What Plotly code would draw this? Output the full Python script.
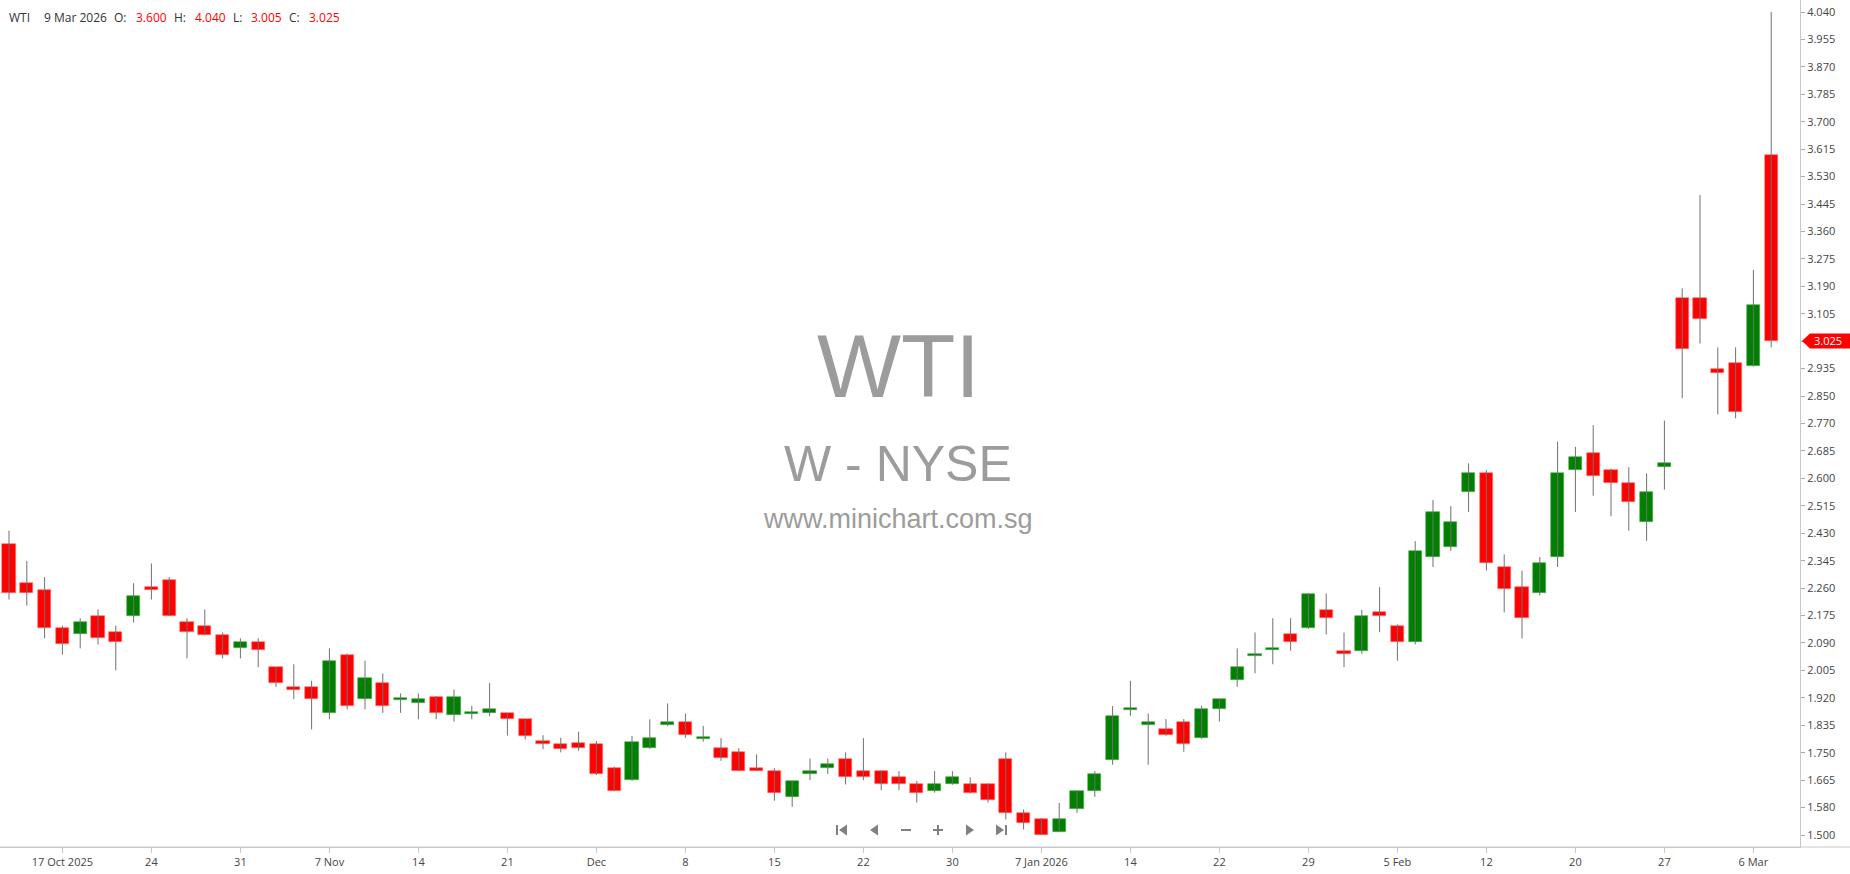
import pandas as pd
import plotly.graph_objects as go

# ---------------- data ----------------
holidays = ["2025-11-27", "2025-12-25", "2026-01-01", "2026-01-19", "2026-02-16"]
dates = [d for d in pd.bdate_range("2025-10-14", "2026-03-09") if d.strftime("%Y-%m-%d") not in holidays]

opens = [2.397, 2.277, 2.257, 2.138, 2.119, 2.177, 2.125, 2.177, 2.265, 2.288,
         2.156, 2.146, 2.118, 2.076, 2.095, 2.017, 1.956, 1.956, 1.875, 2.057,
         1.919, 1.968, 1.916, 1.907, 1.926, 1.869, 1.872, 1.877, 1.875, 1.857,
         1.790, 1.780, 1.785, 1.780, 1.706, 1.669, 1.768, 1.838, 1.848, 1.796,
         1.767, 1.756, 1.706, 1.698, 1.618, 1.688, 1.708, 1.736, 1.698, 1.698,
         1.678, 1.656, 1.637, 1.656, 1.656, 1.656, 1.736, 1.567, 1.549, 1.509,
         1.580, 1.637, 1.730, 1.885, 1.838, 1.826, 1.848, 1.799, 1.888, 1.977,
         2.052, 2.071, 2.119, 2.138, 2.195, 2.069, 2.069, 2.187, 2.146, 2.097,
         2.358, 2.389, 2.559, 2.616, 2.327, 2.265, 2.246, 2.358, 2.628, 2.678,
         2.628, 2.585, 2.466, 2.637, 3.156, 3.156, 2.937, 2.956, 2.948, 3.600]
highs = [2.439, 2.346, 2.296, 2.146, 2.169, 2.196, 2.146, 2.277, 2.338, 2.296,
         2.169, 2.196, 2.125, 2.107, 2.107, 2.018, 2.027, 1.976, 2.076, 2.060,
         2.038, 1.999, 1.937, 1.937, 1.929, 1.949, 1.899, 1.969, 1.877, 1.857,
         1.808, 1.800, 1.819, 1.790, 1.711, 1.806, 1.857, 1.906, 1.875, 1.837,
         1.799, 1.768, 1.749, 1.706, 1.668, 1.736, 1.736, 1.755, 1.799, 1.700,
         1.697, 1.667, 1.697, 1.697, 1.678, 1.659, 1.755, 1.579, 1.553, 1.599,
         1.637, 1.697, 1.898, 1.976, 1.875, 1.858, 1.858, 1.899, 1.921, 2.076,
         2.125, 2.169, 2.169, 2.247, 2.245, 2.125, 2.195, 2.265, 2.150, 2.407,
         2.534, 2.515, 2.647, 2.626, 2.366, 2.316, 2.358, 2.714, 2.698, 2.765,
         2.631, 2.635, 2.616, 2.779, 3.187, 3.475, 3.005, 3.005, 3.244, 4.040]
lows = [2.227, 2.208, 2.107, 2.057, 2.076, 2.088, 2.008, 2.156, 2.227, 2.175,
        2.045, 2.116, 2.045, 2.045, 2.018, 1.957, 1.919, 1.826, 1.857, 1.888,
        1.888, 1.877, 1.877, 1.857, 1.857, 1.850, 1.857, 1.867, 1.807, 1.795,
        1.765, 1.755, 1.760, 1.685, 1.635, 1.667, 1.766, 1.836, 1.800, 1.788,
        1.729, 1.697, 1.697, 1.606, 1.587, 1.669, 1.688, 1.656, 1.669, 1.638,
        1.638, 1.600, 1.631, 1.655, 1.628, 1.600, 1.548, 1.517, 1.500, 1.509,
        1.568, 1.618, 1.717, 1.868, 1.717, 1.806, 1.757, 1.797, 1.850, 1.957,
        1.999, 2.027, 2.069, 2.136, 2.119, 2.018, 2.059, 2.126, 2.038, 2.088,
        2.327, 2.377, 2.497, 2.316, 2.187, 2.107, 2.239, 2.327, 2.497, 2.547,
        2.484, 2.439, 2.408, 2.566, 2.848, 3.017, 2.798, 2.786, 2.946, 3.005]
closes = [2.246, 2.246, 2.138, 2.088, 2.156, 2.107, 2.097, 2.239, 2.257, 2.177,
          2.126, 2.118, 2.057, 2.095, 2.070, 1.969, 1.949, 1.919, 2.038, 1.899,
          1.986, 1.899, 1.919, 1.919, 1.877, 1.926, 1.875, 1.888, 1.857, 1.807,
          1.780, 1.765, 1.770, 1.688, 1.637, 1.786, 1.798, 1.848, 1.808, 1.799,
          1.738, 1.699, 1.699, 1.631, 1.668, 1.697, 1.718, 1.680, 1.680, 1.656,
          1.656, 1.630, 1.656, 1.678, 1.630, 1.607, 1.569, 1.538, 1.500, 1.549,
          1.636, 1.687, 1.868, 1.888, 1.848, 1.808, 1.780, 1.888, 1.919, 2.017,
          2.055, 2.074, 2.097, 2.245, 2.170, 2.059, 2.177, 2.177, 2.097, 2.376,
          2.497, 2.466, 2.616, 2.338, 2.258, 2.169, 2.338, 2.616, 2.666, 2.609,
          2.585, 2.528, 2.559, 2.647, 2.999, 3.094, 2.925, 2.804, 3.136, 3.025]

x_tick_dates = ["2025-10-17", "2025-10-24", "2025-10-31", "2025-11-07", "2025-11-14",
                "2025-11-21", "2025-12-01", "2025-12-08", "2025-12-15", "2025-12-22",
                "2025-12-30", "2026-01-07", "2026-01-14", "2026-01-22", "2026-01-29",
                "2026-02-05", "2026-02-12", "2026-02-20", "2026-02-27", "2026-03-06"]
x_tick_labels = ["17 Oct 2025", "24", "31", "7 Nov", "14", "21", "Dec", "8", "15", "22",
                 "30", "7 Jan 2026", "14", "22", "29", "5 Feb", "12", "20", "27", "6 Mar"]

y_tick_labels = ["1.500", "1.580", "1.665", "1.750", "1.835", "1.920", "2.005", "2.090",
                 "2.175", "2.260", "2.345", "2.430", "2.515", "2.600", "2.685", "2.770",
                 "2.850", "2.935", "", "3.105", "3.190", "3.275", "3.360", "3.445",
                 "3.530", "3.615", "3.700", "3.785", "3.870", "3.955", "4.040"]

symbol = "WTI"
last_date_label = "9 Mar 2026"
last_price = closes[-1]

# ---------------- layout constants ----------------
W, H = 1850, 874
PLOT_W, PLOT_H = 1800, 847
UP, DOWN = "#008000", "#ff0000"
FONT = "Open Sans, Noto Sans, sans-serif"

n = len(closes)
idx = list(range(n))
date_str = [d.strftime("%Y-%m-%d") for d in dates]

ymin, ymax = min(lows), max(highs)
pad = 12 / ((PLOT_H - 24) / (ymax - ymin))
yrange = [ymin - pad, ymax + pad]
tick_step = (ymax - ymin) / (len(y_tick_labels) - 1)
y_tick_vals = [ymin + k * tick_step for k in range(len(y_tick_labels))]

step_px = 17.8
x0 = -9 / step_px
xrange = [x0, x0 + PLOT_W / step_px]

fig = go.Figure()

# wicks
wx, wy = [], []
for i in idx:
    wx += [i, i, None]
    wy += [lows[i], highs[i], None]
fig.add_trace(go.Scatter(x=wx, y=wy, mode="lines", line=dict(color="#707070", width=1),
                         hoverinfo="skip", showlegend=False))

# bodies
base, height, colors, lcolors = [], [], [], []
for o, c in zip(opens, closes):
    lo, hi = min(o, c), max(o, c)
    h = max(hi - lo, 0.007)
    base.append(lo)
    height.append(h)
    up = c >= o
    colors.append(UP if up else DOWN)
    lcolors.append("#55a855" if up else "#ff7070")
fig.add_trace(go.Bar(x=idx, y=height, base=base, width=0.74,
                     marker=dict(color=colors, line=dict(color=lcolors, width=0.6)),
                     hoverinfo="skip", showlegend=False))

def px(x):
    return x / PLOT_W

def py(y):
    return 1 - y / PLOT_H

annotations = []
# header
hdr = [(7, symbol, "#333"), (42, last_date_label, "#333"), (112, "O:", "#333"),
       (134, f"{opens[-1]:.3f}", DOWN), (172, "H:", "#333"), (193, f"{highs[-1]:.3f}", DOWN),
       (231, "L:", "#333"), (249, f"{lows[-1]:.3f}", DOWN), (287, "C:", "#333"),
       (307, f"{closes[-1]:.3f}", DOWN)]
for xp, t, col in hdr:
    annotations.append(dict(x=px(xp), y=py(18), xref="paper", yref="paper", text=t,
                            showarrow=False, xanchor="left", yanchor="middle",
                            font=dict(family=FONT, size=12, color=col)))

# watermark
wm = [("WTI", 366, 89), ("W - NYSE", 464, 50), ("www.minichart.com.sg", 519, 27)]
for t, yp, sz in wm:
    annotations.append(dict(x=px(898), y=py(yp), xref="paper", yref="paper", text=t,
                            showarrow=False, xanchor="center", yanchor="middle",
                            font=dict(family="Liberation Sans, Arial, sans-serif", size=sz,
                                      color="#9c9c9c")))

# last price label
annotations.append(dict(x=px(1828), y=last_price, xref="paper", yref="y",
                        text=f"{last_price:.3f}", showarrow=False, xanchor="center",
                        yanchor="middle", font=dict(family=FONT, size=11, color="white")))

shapes = []
# extended bottom axis line
shapes.append(dict(type="line", xref="paper", yref="paper", x0=0, x1=W / PLOT_W, y0=0, y1=0,
                   line=dict(color="#c8c8c8", width=1)))
# price label polygon
hpx = 7.5 / ((PLOT_H - 24) / (ymax - ymin))
path = (f"M {px(1802)},{last_price} L {px(1810)},{last_price + hpx} L {px(1850)},{last_price + hpx} "
        f"L {px(1850)},{last_price - hpx} L {px(1810)},{last_price - hpx} Z")
shapes.append(dict(type="path", xref="paper", yref="y", path=path, fillcolor=DOWN,
                   line=dict(width=0), layer="above"))

# navigation icons
NAV = "#808080"
def poly(pts):
    return "M " + " L ".join(f"{px(a)},{py(b)}" for a, b in pts) + " Z"
icons = [
    poly([(836, 825), (838, 825), (838, 835), (836, 835)]),
    poly([(847, 824.5), (847, 835.5), (839, 830)]),
    poly([(878, 824.5), (878, 835.5), (870, 830)]),
    poly([(901, 829), (911, 829), (911, 831), (901, 831)]),
    poly([(933, 829), (943, 829), (943, 831), (933, 831)]),
    poly([(937, 825), (939, 825), (939, 835), (937, 835)]),
    poly([(966, 824.5), (966, 835.5), (974, 830)]),
    poly([(996, 824.5), (996, 835.5), (1004, 830)]),
    poly([(1005, 825), (1007, 825), (1007, 835), (1005, 835)]),
]
for p in icons:
    shapes.append(dict(type="path", xref="paper", yref="paper", path=p, fillcolor=NAV,
                       line=dict(width=0)))

x_tick_vals = [date_str.index(d) for d in x_tick_dates]

fig.update_layout(
    width=W, height=H,
    margin=dict(l=0, r=W - PLOT_W, t=0, b=H - PLOT_H),
    paper_bgcolor="white", plot_bgcolor="white",
    font=dict(family=FONT, size=11, color="#444"),
    showlegend=False, bargap=0,
    annotations=annotations, shapes=shapes,
    xaxis=dict(range=xrange, tickvals=x_tick_vals, ticktext=x_tick_labels,
               showgrid=False, zeroline=False, showline=True, linecolor="#c8c8c8",
               ticks="outside", ticklen=5, tickcolor="#c8c8c8", tickwidth=1,
               tickfont=dict(family=FONT, size=11, color="#444"), fixedrange=True),
    yaxis=dict(range=yrange, side="right", tickvals=y_tick_vals, ticktext=y_tick_labels,
               showgrid=False, zeroline=False, showline=True, linecolor="#c8c8c8",
               ticks="outside", ticklen=4, tickcolor="#aaa", tickwidth=1,
               tickfont=dict(family=FONT, size=11, color="#444"), fixedrange=True),
)

fig.write_html("out.html", config={"displayModeBar": False},
               post_script="document.body.style.margin='0';document.body.style.overflow='hidden';")
